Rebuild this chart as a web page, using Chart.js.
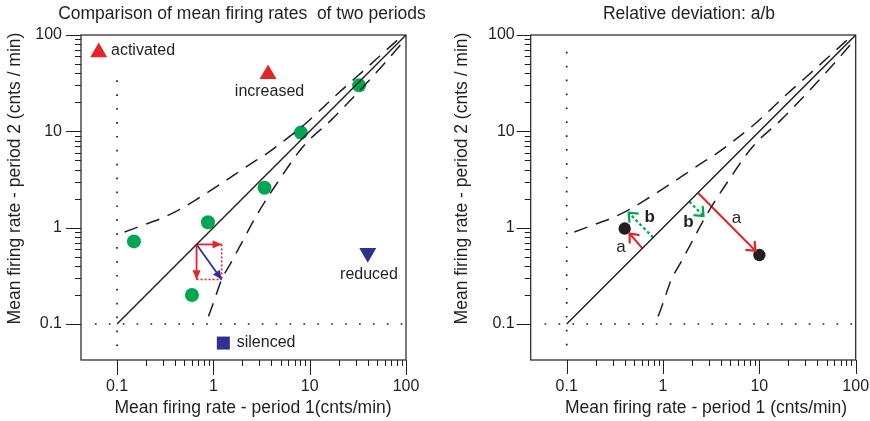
<!DOCTYPE html>
<html>
<head>
<meta charset="utf-8">
<script src="https://cdn.jsdelivr.net/npm/chart.js@4.4.1/dist/chart.umd.min.js"></script>
<style>
  html, body { margin: 0; padding: 0; background: #fff; }
  #wrap { position: relative; width: 870px; height: 421px; }
  .panel { position: absolute; top: 0; width: 435px; height: 421px; }
  canvas { display: block; }
</style>
</head>
<body>
<div id="wrap">
  <div class="panel" style="left:0"><canvas id="cmp" width="435" height="421" style="width:435px;height:421px"></canvas></div>
  <div class="panel" style="left:435px"><canvas id="dev" width="435" height="421" style="width:435px;height:421px"></canvas></div>
</div>
<script>
// ---------- axes ----------
const AXIS_MIN = 0.0423;
const AXIS_MAX = 100;
const majorTicks = [0.1, 1, 10, 100];
const majorTickLabels = ['0.1', '1', '10', '100'];
const minorMultipliers = [2, 3, 4, 5, 6, 7, 8, 9];
const minorDecades = [0.1, 1, 10];

// ---------- reference lines (shared by both panels) ----------
const identityEnds = [0.1, 100];
const upperBoundX = [0.12, 0.2, 0.3, 0.45, 0.7, 1.1, 1.7, 2.7, 3.3, 5, 8.6, 13.3, 19, 30, 51, 93];
const upperBoundY = [0.9, 1.09, 1.27, 1.55, 2.02, 2.7, 3.6, 4.9, 5.55, 7.5, 11.5, 17.1, 24, 36, 58, 100];
const lowerBoundX = [0.89, 1.0, 1.22, 1.5, 1.9, 2.8, 4.9, 8.6, 17, 27, 60, 100];
const lowerBoundY = [0.12, 0.165, 0.29, 0.42, 0.65, 1.33, 3.2, 7.0, 13.3, 21.4, 51, 92];
const zeroLineLevel = 0.1;
const cmpVerticalSpan = [0.059, 45];
const devVerticalSpan = [0.06, 88];
const horizontalSpan = [0.059, 100];

// ---------- left panel: units ----------
const unitRate1 = [0.15, 0.6, 0.88, 3.4, 8.1, 32.6];
const unitRate2 = [0.72, 0.2, 1.14, 2.6, 9.7, 30];

const classNames = ['activated', 'increased', 'reduced', 'silenced'];
const classRate1 = [0.0646, 3.7, 40.1, 1.27];
const classRate2 = [66, 39.2, 0.547, 0.0634];
const classLabelX = [0.0867, 3.83, 41.3, 1.75];
const classLabelY = [68.1, 25.6, 0.327, 0.064];

// change of one unit split into its components
const changeFromX = [0.67, 0.67, 0.67];
const changeFromY = [0.67, 0.67, 0.67];
const changeToX = [1.22, 0.67, 1.22];
const changeToY = [0.67, 0.29, 0.29];
const guideFromX = [1.22, 0.67];
const guideFromY = [0.67, 0.29];
const guideToX = [1.22, 1.22];
const guideToY = [0.29, 0.29];

// ---------- right panel: relative deviation ----------
const exampleRate1 = [0.4, 10];
const exampleRate2 = [0.98, 0.52];
const devFromX = [0.61, 0.79, 2.3, 1.87];
const devFromY = [0.61, 0.79, 2.3, 1.87];
const devToX = [0.45, 0.44, 9.1, 2.63];
const devToY = [0.87, 1.43, 0.575, 1.32];
const devKind = ['a', 'b', 'a', 'b'];
const devLabelText = ['a', 'b', 'b', 'a'];
const devLabelX = [0.366, 0.726, 1.84, 5.77];
const devLabelY = [0.62, 1.27, 1.14, 1.24];

// ---------- styles ----------
const INK = '#231f20';
const RED = '#e3242b';
const BLUE = '#2e3192';
const GREEN = '#00a651';
const FONT = '"Liberation Sans", Arial, Helvetica, sans-serif';

const pts = (xs, ys) => xs.map((v, i) => ({ x: v, y: ys[i] }));
const seg = (x0, y0, x1, y1) => [{ x: x0, y: y0 }, { x: x1, y: y1 }];

function lineSet(data, color, width, dash, extra) {
  return Object.assign({
    data, showLine: true, borderColor: color, borderWidth: width,
    borderDash: dash || [], pointRadius: 0, fill: false, tension: 0
  }, extra || {});
}

function referenceSets(verticalSpan) {
  return [
    lineSet(seg(identityEnds[0], identityEnds[0], identityEnds[1], identityEnds[1]), INK, 1.4),
    lineSet(pts(upperBoundX, upperBoundY), INK, 1.5, [14, 9], { cubicInterpolationMode: 'monotone' }),
    lineSet(pts(lowerBoundX, lowerBoundY), INK, 1.5, [14, 9], { cubicInterpolationMode: 'monotone' }),
    lineSet(seg(zeroLineLevel, verticalSpan[0], zeroLineLevel, verticalSpan[1]), INK, 1.7, [1.7, 12.2]),
    lineSet(seg(horizontalSpan[0], zeroLineLevel, horizontalSpan[1], zeroLineLevel), INK, 1.7, [1.7, 12.2])
  ];
}

function drawHead(ctx, x0, y0, x1, y1, color, style) {
  const ang = Math.atan2(y1 - y0, x1 - x0);
  ctx.save();
  if (style === 'filled') {
    const L = 10, W = 0.43;
    ctx.fillStyle = color;
    ctx.beginPath();
    ctx.moveTo(x1, y1);
    ctx.lineTo(x1 - L * Math.cos(ang - W), y1 - L * Math.sin(ang - W));
    ctx.lineTo(x1 - L * Math.cos(ang + W), y1 - L * Math.sin(ang + W));
    ctx.closePath();
    ctx.fill();
  } else {
    const L = 10, W = 0.7;
    ctx.strokeStyle = color;
    ctx.lineWidth = 2.2;
    ctx.lineJoin = 'miter';
    ctx.lineCap = 'butt';
    ctx.beginPath();
    ctx.moveTo(x1 - L * Math.cos(ang - W), y1 - L * Math.sin(ang - W));
    ctx.lineTo(x1, y1);
    ctx.lineTo(x1 - L * Math.cos(ang + W), y1 - L * Math.sin(ang + W));
    ctx.stroke();
  }
  ctx.restore();
}

// frame, log tick marks, titles, arrow heads and in-plot labels
const decorPlugin = {
  id: 'decor',
  afterDatasetsDraw(chart, args, opts) {
    const { ctx, scales: { x, y } } = chart;
    (opts.arrows || []).forEach(ar => {
      drawHead(ctx,
        x.getPixelForValue(ar.x0), y.getPixelForValue(ar.y0),
        x.getPixelForValue(ar.x1), y.getPixelForValue(ar.y1),
        ar.color, opts.headStyle);
    });
    ctx.save();
    ctx.fillStyle = INK;
    ctx.textBaseline = 'middle';
    (opts.labels || []).forEach(l => {
      ctx.font = (l.bold ? 'bold ' : '') + l.size + 'px ' + FONT;
      ctx.textAlign = l.align;
      ctx.fillText(l.text, x.getPixelForValue(l.x), y.getPixelForValue(l.y));
    });
    ctx.restore();
  },
  afterDraw(chart, args, opts) {
    const { ctx, chartArea: a, scales: { x, y } } = chart;
    ctx.save();
    ctx.strokeStyle = INK;
    ctx.lineWidth = 1.2;
    ctx.strokeRect(a.left, a.top, a.right - a.left, a.bottom - a.top);
    ctx.lineWidth = 1;
    const tick = (v, len) => {
      const px = Math.round(x.getPixelForValue(v)) + 0.5;
      const py = Math.round(y.getPixelForValue(v)) + 0.5;
      ctx.beginPath();
      ctx.moveTo(px, a.bottom); ctx.lineTo(px, a.bottom + len);
      ctx.moveTo(a.left, py); ctx.lineTo(a.left - len, py);
      ctx.stroke();
    };
    majorTicks.forEach(v => tick(v, opts.majorLen));
    minorDecades.forEach(d => minorMultipliers.forEach(m => tick(d * m, opts.minorLen)));

    ctx.fillStyle = INK;
    ctx.font = opts.titleSize + 'px ' + FONT;
    ctx.textAlign = 'center';
    ctx.textBaseline = 'alphabetic';
    ctx.fillText(opts.title.text, opts.title.cx, opts.title.base);
    ctx.fillText(opts.xTitle.text, opts.xTitle.cx, opts.xTitle.base);
    ctx.translate(opts.yTitle.cx, opts.yTitle.cy);
    ctx.rotate(-Math.PI / 2);
    ctx.textBaseline = 'middle';
    ctx.fillText(opts.yTitle.text, 0, 0);
    ctx.restore();
  }
};

function logAxis(axis, size, tickPadding) {
  return {
    type: 'logarithmic',
    min: AXIS_MIN,
    max: AXIS_MAX,
    grid: { display: false, drawTicks: false },
    border: { display: false },
    afterBuildTicks: s => { s.ticks = majorTicks.map(v => ({ value: v })); },
    afterFit: s => {
      if (axis === 'x') s.height = size; else s.width = size;
      s.paddingLeft = s.paddingRight = s.paddingTop = s.paddingBottom = 0;
    },
    ticks: {
      autoSkip: false, maxRotation: 0, minRotation: 0, padding: tickPadding,
      color: INK, font: { family: FONT, size: 16 },
      callback: v => majorTickLabels[majorTicks.indexOf(v)] ?? ''
    }
  };
}

function baseOptions(rightPad, yWidth, yPad, decor) {
  return {
    responsive: false,
    animation: false,
    events: [],
    layout: { padding: { left: 0, right: rightPad, top: 35, bottom: 0 } },
    plugins: {
      legend: { display: false },
      tooltip: { enabled: false },
      title: { display: false },
      decor
    },
    scales: {
      x: logAxis('x', 61, 17),
      y: logAxis('y', yWidth, yPad)
    }
  };
}

// ---------- left panel ----------
const changeColors = [RED, RED, BLUE];
const cmpSets = referenceSets(cmpVerticalSpan);
changeFromX.forEach((_, i) => cmpSets.push(
  lineSet(seg(changeFromX[i], changeFromY[i], changeToX[i], changeToY[i]), changeColors[i], 1.8)));
guideFromX.forEach((_, i) => cmpSets.push(
  lineSet(seg(guideFromX[i], guideFromY[i], guideToX[i], guideToY[i]), RED, 1.6, [2, 2])));
cmpSets.push({
  data: pts(unitRate1, unitRate2), showLine: false,
  pointRadius: 7, pointBackgroundColor: GREEN, pointBorderWidth: 0
});
cmpSets.push({
  data: pts(classRate1, classRate2), showLine: false,
  pointStyle: ['triangle', 'triangle', 'triangle', 'rect'],
  pointRotation: [0, 0, 180, 0],
  pointRadius: [9.8, 9.8, 9.8, 9.2],
  pointBackgroundColor: [RED, RED, BLUE, BLUE],
  pointBorderWidth: 0
});

new Chart(document.getElementById('cmp'), {
  type: 'scatter',
  data: { datasets: cmpSets },
  options: baseOptions(29, 81, 19, {
    headStyle: 'filled',
    arrows: changeFromX.map((_, i) => ({
      x0: changeFromX[i], y0: changeFromY[i], x1: changeToX[i], y1: changeToY[i], color: changeColors[i]
    })),
    labels: classNames.map((t, i) => ({
      text: t, x: classLabelX[i], y: classLabelY[i], size: 16, bold: false,
      align: (i === 0 || i === 3) ? 'left' : 'center'
    })),
    majorLen: 15, minorLen: 6, titleSize: 17.5,
    title: { text: 'Comparison of mean firing rates  of two periods', cx: 242, base: 19 },
    xTitle: { text: 'Mean firing rate - period 1(cnts/min)', cx: 253, base: 413 },
    yTitle: { text: 'Mean firing rate - period 2 (cnts / min)', cx: 15, cy: 178.5 }
  }),
  plugins: [decorPlugin]
});

// ---------- right panel ----------
const devColors = devKind.map(k => k === 'a' ? RED : GREEN);
const devSets = referenceSets(devVerticalSpan);
devFromX.forEach((_, i) => devSets.push(
  lineSet(seg(devFromX[i], devFromY[i], devToX[i], devToY[i]), devColors[i],
    devKind[i] === 'a' ? 2 : 2.2, devKind[i] === 'a' ? [] : [3, 2.5])));
devSets.push({
  data: pts(exampleRate1, exampleRate2), showLine: false,
  pointRadius: 6.2, pointBackgroundColor: INK, pointBorderWidth: 0
});

new Chart(document.getElementById('dev'), {
  type: 'scatter',
  data: { datasets: devSets },
  options: baseOptions(14.3, 95.7, 16, {
    headStyle: 'open',
    arrows: devFromX.map((_, i) => ({
      x0: devFromX[i], y0: devFromY[i], x1: devToX[i], y1: devToY[i], color: devColors[i]
    })),
    labels: devLabelText.map((t, i) => ({
      text: t, x: devLabelX[i], y: devLabelY[i], size: 17, bold: t === 'b', align: 'center'
    })),
    majorLen: 14, minorLen: 6, titleSize: 17.5,
    title: { text: 'Relative deviation: a/b', cx: 254, base: 19 },
    xTitle: { text: 'Mean firing rate - period 1 (cnts/min)', cx: 271, base: 413 },
    yTitle: { text: 'Mean firing rate - period 2 (cnts / min)', cx: 27, cy: 178.5 }
  }),
  plugins: [decorPlugin]
});
</script>
</body>
</html>
